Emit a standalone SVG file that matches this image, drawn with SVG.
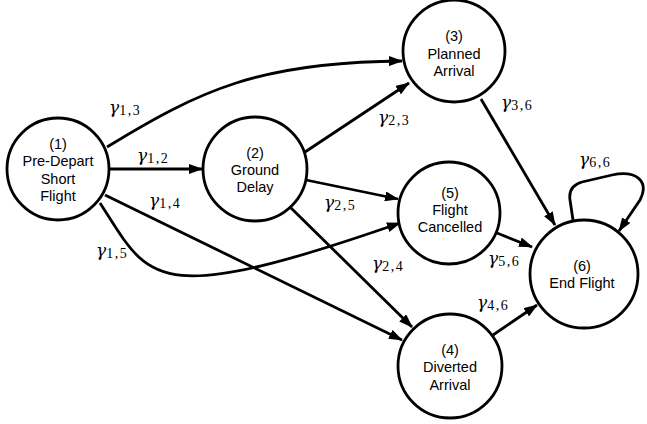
<svg xmlns="http://www.w3.org/2000/svg" width="647" height="424" viewBox="0 0 647 424">
<style>
.node circle{fill:#fff;stroke:#000;stroke-width:2.8}
.node text{font-family:"Liberation Sans",Arial,sans-serif;font-size:14.5px;text-anchor:middle;fill:#000}
.edge{fill:none;stroke:#000;stroke-width:2.8;marker-end:url(#arr)}
.lbl{font-family:"DejaVu Serif","Liberation Serif",serif;font-size:17px;font-style:italic;fill:#000}
.sub{font-family:"Liberation Serif","Times New Roman",serif;font-style:normal;font-size:14px;letter-spacing:1.5px}
</style>
<defs>
<marker id="arr" markerUnits="userSpaceOnUse" viewBox="0 0 14 10" refX="13" refY="5" markerWidth="14" markerHeight="10" orient="auto">
<path d="M0,0 L14,5 L0,10 z" fill="#000"/>
</marker>
</defs>
<rect width="647" height="424" fill="#fff"/>
<g id="connectors">
<path class="edge" d="M110,169 L202,169"/>
<path class="edge" d="M107,147 C200,90 260,62 402,61"/>
<path class="edge" d="M105,195 L402,340"/>
<path class="edge" d="M100,203 C150,280 150,310 400,223"/>
<path class="edge" d="M305,152 L409,83"/>
<path class="edge" d="M306,180 L398,199"/>
<path class="edge" d="M290,207 L412,327"/>
<path class="edge" d="M481,99 L555,225"/>
<path class="edge" d="M497,233 L532,247"/>
<path class="edge" d="M493,335 L537,305"/>
<path class="edge" d="M573,220 L570,200 Q568,186 582,182 L612,175 C635,170 650,180 640,200 L619,231"/>
</g>
<g id="labels">
<text class="lbl" x="109" y="113">γ<tspan class="sub" dy="2">1,3</tspan></text>
<text class="lbl" x="137" y="161">γ<tspan class="sub" dy="2">1,2</tspan></text>
<text class="lbl" x="149" y="206">γ<tspan class="sub" dy="2">1,4</tspan></text>
<text class="lbl" x="96" y="256">γ<tspan class="sub" dy="2">1,5</tspan></text>
<text class="lbl" x="378" y="123">γ<tspan class="sub" dy="2">2,3</tspan></text>
<text class="lbl" x="324" y="208">γ<tspan class="sub" dy="2">2,5</tspan></text>
<text class="lbl" x="372" y="269">γ<tspan class="sub" dy="2">2,4</tspan></text>
<text class="lbl" x="501" y="108">γ<tspan class="sub" dy="2">3,6</tspan></text>
<text class="lbl" x="488" y="264">γ<tspan class="sub" dy="2">5,6</tspan></text>
<text class="lbl" x="477" y="308">γ<tspan class="sub" dy="2">4,6</tspan></text>
<text class="lbl" x="579" y="165">γ<tspan class="sub" dy="2">6,6</tspan></text>
</g>
<g id="n1" class="node"><circle cx="58" cy="169" r="51"/>
<text x="58" y="148.5">(1)</text><text x="58" y="166">Pre-Depart</text><text x="58" y="183.5">Short</text><text x="58" y="201">Flight</text></g>
<g id="n2" class="node"><circle cx="255" cy="169" r="52"/>
<text x="255" y="158">(2)</text><text x="255" y="175">Ground</text><text x="255" y="192">Delay</text></g>
<g id="n3" class="node"><circle cx="454" cy="51" r="51"/>
<text x="454" y="41">(3)</text><text x="454" y="58.5">Planned</text><text x="454" y="76">Arrival</text></g>
<g id="n5" class="node"><circle cx="449" cy="213" r="51"/>
<text x="450" y="198">(5)</text><text x="450" y="215">Flight</text><text x="450" y="232">Cancelled</text></g>
<g id="n4" class="node"><circle cx="450" cy="366" r="52"/>
<text x="450" y="354.5">(4)</text><text x="450" y="372">Diverted</text><text x="450" y="389.5">Arrival</text></g>
<g id="n6" class="node"><circle cx="584" cy="274" r="54"/>
<text x="582" y="270.5">(6)</text><text x="582" y="287.5">End Flight</text></g>
</svg>
